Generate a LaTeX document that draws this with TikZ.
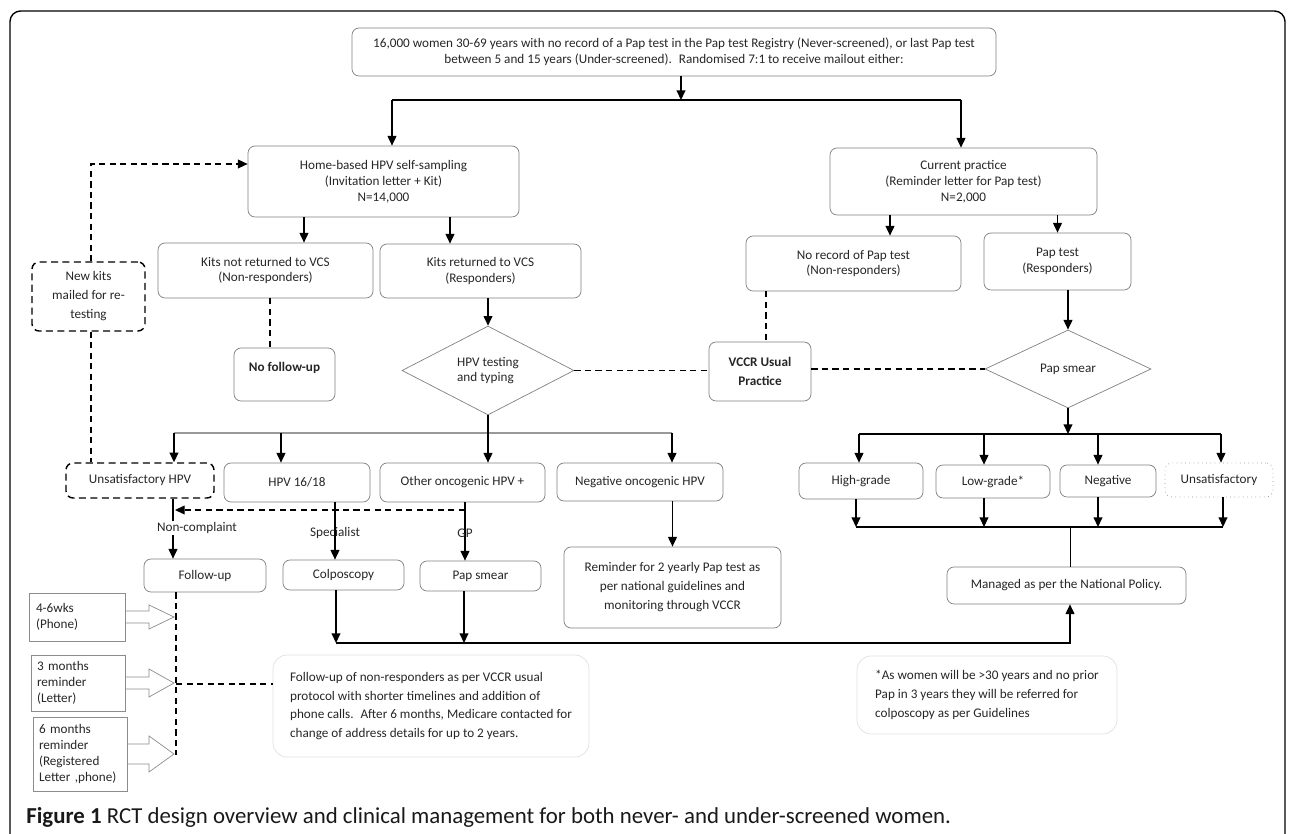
\documentclass[tikz,border=0pt]{standalone}
\usepackage{fontspec}
\setmainfont{Carlito}
\usetikzlibrary{arrows.meta,shapes.geometric}

\tikzset{
	px/.style={x=0.02cm,y=-0.02cm},
	wh/.style 2 args={minimum width=#1*0.02cm,minimum height=#2*0.02cm},
	txt/.style={font=\fontsize{7.5}{9}\selectfont,text=black!85},
	flowbox/.style={txt,draw=black!50,rounded corners=4pt,align=center,inner sep=0pt},
	dashbox/.style={flowbox,draw=black,line width=0.8pt,dash pattern=on 4pt off 2.5pt},
	dotbox/.style={flowbox,draw=black!45,dotted},
	notebox/.style={flowbox,draw=black!12,rounded corners=8pt,align=left,font=\fontsize{7.5}{10.6}\selectfont},
	timebox/.style={txt,draw=black!45,align=left,text width=1.64cm,inner sep=0pt},
	testdia/.style={txt,draw=black!50,diamond,inner sep=0pt},
	arr/.style={-{Triangle[length=5.5pt,width=5pt]},line width=0.8pt},
	dsh/.style={line width=0.7pt,dash pattern=on 3.5pt off 2.5pt},
	blk/.style={draw=black!45,line join=miter},
	lbl/.style={txt,inner sep=1pt},
}

\begin{document}
\begin{tikzpicture}[px]
	%%%%% START %%%%%
	\useasboundingbox (0,0) rectangle (1289,834);
	\draw[line width=0.8pt,rounded corners=6pt] (10,11) rectangle (1285,870);
	
	% top and the two arms
	\node[flowbox,wh={644}{48}] (top) at (674,52) {16,000 women 30-69 years with no record of a Pap test in the Pap test Registry (Never-screened), or last Pap test\\between 5 and 15 years (Under-screened).~ Randomised 7:1 to receive mailout either:};
	\node[flowbox,wh={271}{71}] (home) at (383.5,181.5) {Home-based HPV self-sampling\\(Invitation letter + Kit)\\N=14,000};
	\node[flowbox,wh={267}{67}] (cur) at (963.5,181.5) {Current practice\\(Reminder letter for Pap test)\\N=2,000};
	
	\coordinate (jL) at (392,100);
	\coordinate (jM) at (681,100);
	\coordinate (jR) at (961,100);
	\draw[arr] (top.south -| jM) -- (jM);
	\draw[line width=0.8pt] (jL) -- (jR);
	\draw[arr] (jL) -- (home.north -| jL);
	\draw[arr] (jR) -- (cur.north -| jR);
	
	% HPV arm
	\node[flowbox,wh={215}{55}] (notret) at (265.5,270.5) {Kits not returned to VCS\\(Non-responders)};
	\node[flowbox,wh={201}{54}] (ret) at (480.5,271) {Kits returned to VCS\\(Responders)};
	\node[flowbox,wh={101}{53},font=\fontsize{7.5}{9}\selectfont\bfseries] (nofu) at (284.5,374.5) {No follow-up\\~};
	\node[testdia,wh={172}{85},align=left] (hpv) at (488,370.5) {HPV testing\\and typing};
	\node[dashbox,wh={113}{69},font=\fontsize{7.5}{10.8}\selectfont] (newkits) at (88.5,296.5) {New kits\\mailed for re-\\testing};
	
	\draw[arr] (home.south -| 304,0) -- (notret.north -| 304,0);
	\draw[arr] (home.south -| 450,0) -- (ret.north -| 450,0);
	\draw[dsh] (notret.south -| 270,0) -- (nofu.north -| 270,0);
	\draw[arr] (ret.south -| hpv.north) -- (hpv.north);
	\draw[dsh,-{Triangle[length=5.5pt,width=5pt]}] (newkits.north -| 91,0) |- (home.west |- 0,164);
	
	\node[dashbox,wh={148}{35}] (unsat) at (140,480.5) {Unsatisfactory HPV};
	\node[flowbox,wh={146}{39}] (h1618) at (297,482.5) {HPV 16/18};
	\node[flowbox,wh={165}{39}] (othonc) at (462.5,482.5) {Other oncogenic HPV +};
	\node[flowbox,wh={166}{38}] (negonc) at (640,482) {Negative oncogenic HPV};
	
	\draw[dsh] (newkits.south -| 91,0) -- (unsat.north -| 91,0);
	\coordinate (bL) at (174,433);
	\coordinate (bR) at (672,433);
	\draw[black!40,line width=0.6pt] (bL) -- (bR);
	\draw[arr] (bL) -- (unsat.north -| bL);
	\draw[arr] (281,433) -- (h1618.north -| 281,0);
	\draw[arr] (bR) -- (negonc.north -| bR);
	\draw[arr] (hpv.south) -- (othonc.north -| hpv.south);
	
	\node[flowbox,wh={122}{33}] (fu) at (205,575.5) {Follow-up};
	\node[flowbox,wh={121}{30}] (colpo) at (343.5,575) {Colposcopy};
	\node[flowbox,wh={121}{30}] (papsm) at (480.5,576) {Pap smear};
	\node[flowbox,wh={217}{81},font=\fontsize{7.5}{10.8}\selectfont] (remind) at (672.5,587.5) {Reminder for 2 yearly Pap test as\\per national guidelines and\\monitoring through VCCR};
	
	\draw[arr] (unsat.south -| 173,0) -- (fu.north -| 173,0);
	\node[lbl,fill=white] (noncomp) at (197,528) {Non-complaint};
	\draw[arr] (h1618.south -| 335,0) -- (colpo.north -| 335,0);
	\node[lbl] (spec) at (335,533) {Specialist};
	\draw[arr] (othonc.south -| 465,0) -- (papsm.north -| 465,0);
	\node[lbl] (gp) at (465,533) {GP};
	\draw[dsh,-{Triangle[length=5.5pt,width=5pt]}] (465,510) -- (175,510);
	\draw[arr] (negonc.south -| remind.north) -- (remind.north);
	
	% follow-up of non-responders
	\node[notebox,wh={316}{102}] (funote) at (431,706) {Follow-up of non-responders as per VCCR usual\\protocol with shorter timelines and addition of\\phone calls.~ After 6 months, Medicare contacted for\\change of address details for up to 2 years.};
	\node[timebox,wh={96}{48}] (t1) at (77,617) {4-6wks\\(Phone)};
	\node[timebox,wh={94}{56}] (t2) at (78,683) {3 months\\reminder\\(Letter)};
	\node[timebox,wh={94}{74}] (t3) at (80,754) {6 months\\reminder\\(Registered\\Letter ,phone)};
	
	\draw[dsh] (fu.south -| 176,0) -- (176,755);
	\draw[dsh] (176,684) -- (funote.west |- 0,684);
	\draw[blk] (t1.east |- 0,611) -- (149,611) -- (149,605) -- (174,617) -- (149,629) -- (149,623) -- (t1.east |- 0,623);
	\draw[blk] (t2.east |- 0,677) -- (149,677) -- (149,669) -- (174,683) -- (149,697) -- (149,689) -- (t2.east |- 0,689);
	\draw[blk] (t3.east |- 0,744) -- (149,744) -- (149,736) -- (174,754) -- (149,772) -- (149,764) -- (t3.east |- 0,764);
	
	% current practice arm
	\node[flowbox,wh={215}{55}] (norec) at (853.5,263.5) {No record of Pap test\\(Non-responders)};
	\node[flowbox,wh={147}{57}] (paptest) at (1057.5,261.5) {Pap test\\(Responders)};
	\node[flowbox,wh={102}{59},font=\fontsize{7.5}{10.8}\selectfont\bfseries] (vccr) at (760,371.5) {VCCR Usual\\Practice};
	\node[testdia,wh={166}{78}] (papd) at (1068,369) {Pap smear};
	
	\draw[arr] (cur.south -| 890,0) -- (norec.north -| 890,0);
	\draw[arr] (cur.south -| paptest.north) -- (paptest.north);
	\draw[dsh] (norec.south -| 766,0) -- (vccr.north -| 766,0);
	\draw[arr] (paptest.south -| papd.north) -- (papd.north);
	\draw[dsh] (hpv.east) -- (vccr.west |- hpv.east);
	\draw[dsh] (vccr.east |- papd.west) -- (papd.west);
	
	\node[flowbox,wh={124}{36}] (high) at (861,481) {High-grade};
	\node[flowbox,wh={114}{33}] (low) at (993,481.5) {Low-grade*};
	\node[flowbox,wh={96}{32}] (neg) at (1108,481) {Negative};
	\node[dotbox,wh={108}{34}] (unsat2) at (1219,480) {Unsatisfactory};
	\node[flowbox,wh={239}{37}] (managed) at (1066.5,585.5) {Managed as per the National Policy.};
	
	\coordinate (rL) at (859,434);
	\coordinate (rR) at (1221,434);
	\draw[arr] (papd.south) -- (papd.south |- rL);
	\draw[line width=0.8pt] (rL) -- (rR);
	\draw[arr] (rL) -- (high.north -| rL);
	\draw[arr] (984,434) -- (low.north -| 984,0);
	\draw[arr] (1098,434) -- (neg.north -| 1098,0);
	\draw[arr] (rR) -- (unsat2.north -| rR);
	
	\coordinate (sL) at (856,527);
	\coordinate (sR) at (1223,527);
	\draw[line width=0.8pt] (sL) -- (sR);
	\draw[arr] (high.south -| sL) -- (sL);
	\draw[arr] (low.south -| 984,0) -- (984,527);
	\draw[arr] (neg.south -| 1098,0) -- (1098,527);
	\draw[arr] (unsat2.south -| sR) -- (sR);
	\draw[line width=0.5pt] (1070,527) -- (managed.north -| 1070,0);
	
	% both arms into the national policy
	\coordinate (mL) at (336,643);
	\coordinate (mR) at (1070,643);
	\draw[arr] (colpo.south -| mL) -- (mL);
	\draw[arr] (papsm.south -| 464,0) -- (464,643);
	\draw[arr] (mL) -- (mR) -- (managed.south -| mR);
	
	\node[notebox,wh={260}{78}] (starnote) at (987,695) {*As women will be >30 years and no prior\\Pap in 3 years they will be referred for\\colposcopy as per Guidelines};
	
	\node[anchor=base west,font=\fontsize{13}{15}\selectfont,text=black!90,inner sep=0pt] (cap) at (26,823) {\textbf{Figure 1} RCT design overview and clinical management for both never- and under-screened women.};
	
	%%%%% END %%%%%
\end{tikzpicture}
\end{document}
